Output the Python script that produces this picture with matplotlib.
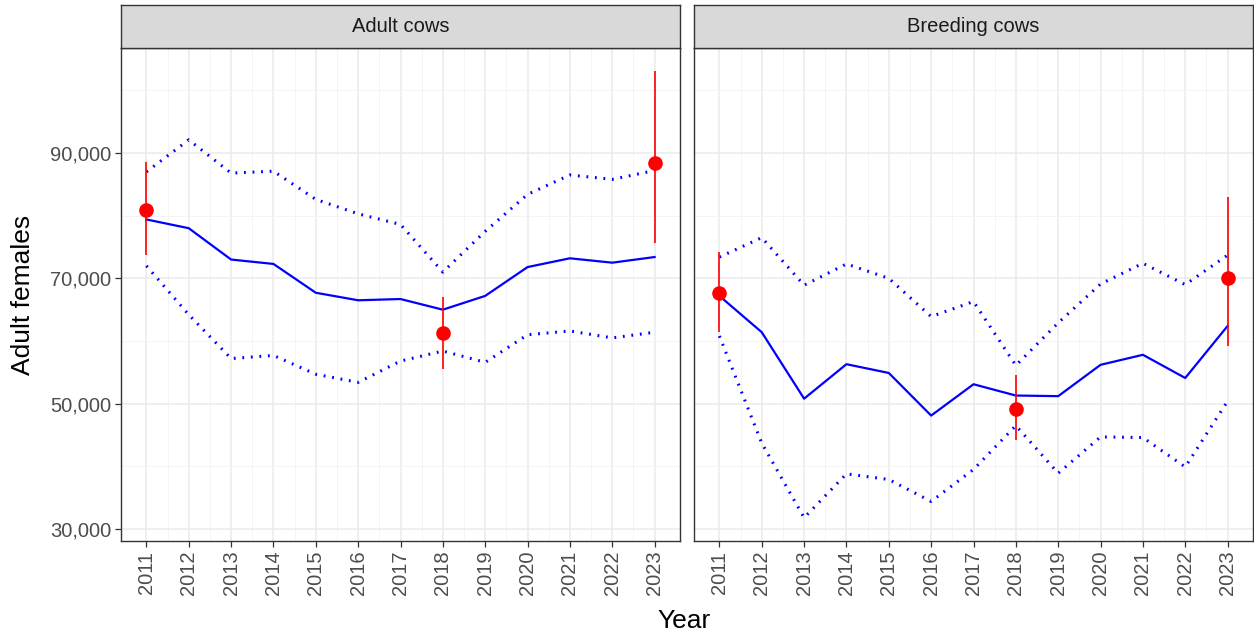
import matplotlib.pyplot as plt
from matplotlib.ticker import FuncFormatter

plt.rcParams['font.family'] = ['Liberation Sans', 'DejaVu Sans']

years = list(range(2011, 2024))
panels = ["Adult cows", "Breeding cows"]

# model estimate (solid) and bounds (dotted)
adult_mid = [79400, 78000, 73000, 72300, 67700, 66500, 66700, 65000, 67200, 71800, 73200, 72500, 73400]
adult_hi = [87000, 92100, 86800, 87100, 82600, 80300, 78600, 71000, 77500, 83400, 86500, 85800, 87200]
adult_lo = [72000, 64200, 57200, 57700, 54700, 53400, 56800, 58400, 56600, 61000, 61600, 60500, 61400]

breed_mid = [67200, 61400, 50800, 56300, 54900, 48100, 53100, 51300, 51200, 56200, 57800, 54100, 62400]
breed_hi = [73400, 76500, 68900, 72300, 70000, 63900, 66300, 56100, 62900, 69100, 72400, 69000, 73700]
breed_lo = [60800, 43700, 31800, 38800, 37900, 34400, 39500, 46500, 38900, 44700, 44600, 39900, 50400]

# survey estimates with intervals
survey_years = [2011, 2018, 2023]
adult_obs = [80900, 61200, 88400]
adult_obs_lo = [73700, 55600, 75700]
adult_obs_hi = [88600, 67100, 103100]
breed_obs = [67600, 49100, 70100]
breed_obs_lo = [61400, 44200, 59200]
breed_obs_hi = [74200, 54500, 83000]

series = {
    "Adult cows": (adult_mid, adult_hi, adult_lo, adult_obs, adult_obs_lo, adult_obs_hi),
    "Breeding cows": (breed_mid, breed_hi, breed_lo, breed_obs, breed_obs_lo, breed_obs_hi),
}

fig = plt.figure(figsize=(12.54, 6.34), dpi=100)
lefts = [121 / 1254, 694 / 1254]
W, H = 1254, 634

for i, name in enumerate(panels):
    mid, hi, lo, obs, obs_lo, obs_hi = series[name]
    ax = fig.add_axes([lefts[i], 1 - 541 / H, 559 / W, 493 / H])

    ax.plot(years, mid, color="blue", lw=1.6, zorder=3)
    ax.plot(years, hi, color="blue", lw=2.2, linestyle=(0, (0.6, 2.2)), zorder=3)
    ax.plot(years, lo, color="blue", lw=2.2, linestyle=(0, (0.6, 2.2)), zorder=3)
    ax.vlines(survey_years, obs_lo, obs_hi, color="red", lw=1.2, zorder=4)
    ax.plot(survey_years, obs, "o", color="red", ms=9.5, zorder=5)

    ax.set_xlim(2010.4, 2023.6)
    ax.set_ylim(28085, 106760)
    ax.set_xticks(years)
    ax.set_xticklabels([str(y) for y in years], rotation=90)
    ax.set_xticks([y + 0.5 for y in years[:-1]], minor=True)
    ax.set_yticks([30000, 50000, 70000, 90000])
    ax.set_yticks([40000, 60000, 80000, 100000], minor=True)
    ax.yaxis.set_major_formatter(FuncFormatter(lambda v, p: f"{int(v):,}"))

    ax.grid(which="major", color="#EBEBEB", lw=1.1)
    ax.grid(which="minor", color="#F2F2F2", lw=0.6)
    ax.set_axisbelow(True)
    for s in ax.spines.values():
        s.set_color("#333333")
        s.set_linewidth(1.0)
    ax.tick_params(axis="both", which="major", colors="#333333", labelcolor="#4D4D4D",
                   labelsize=14.5, length=4, width=0.9, pad=3)
    ax.tick_params(which="minor", length=0)
    if i == 1:
        ax.tick_params(axis="y", labelleft=False, length=0)

    # facet strip
    strip = fig.add_axes([lefts[i], 1 - 48 / H, 559 / W, 43 / H])
    strip.set_facecolor("#D9D9D9")
    strip.set_xticks([])
    strip.set_yticks([])
    for s in strip.spines.values():
        s.set_color("#333333")
        s.set_linewidth(1.0)
    strip.text(0.5, 0.5, name, ha="center", va="center", fontsize=14.5, color="#1A1A1A",
               transform=strip.transAxes)

fig.text(23 / W, 1 - 295 / H, "Adult females", ha="center", va="center", rotation=90, fontsize=19)
fig.text(684 / W, 1 - 621 / H, "Year", ha="center", va="center", fontsize=19)

plt.savefig("out.png", dpi=100)
